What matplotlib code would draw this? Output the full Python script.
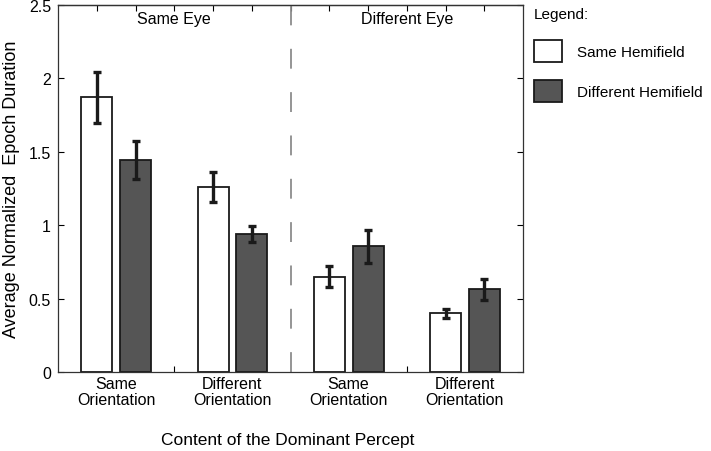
import numpy as np
import matplotlib
matplotlib.use('Agg')
import matplotlib.pyplot as plt
from matplotlib.patches import Patch

plt.rcParams['font.family'] = ['Liberation Sans', 'DejaVu Sans']

groups = ['Same\nOrientation', 'Different\nOrientation', 'Same\nOrientation', 'Different\nOrientation']
same_hemi = [1.87, 1.26, 0.65, 0.40]
same_hemi_err = [0.175, 0.10, 0.07, 0.032]
diff_hemi = [1.445, 0.94, 0.855, 0.562]
diff_hemi_err = [0.13, 0.055, 0.11, 0.07]
eye_labels = ['Same Eye', 'Different Eye']

fig = plt.figure(figsize=(7.11, 4.52), dpi=100)
ax = fig.add_axes([0.0816, 0.1748, 0.654, 0.812])

pos_white = np.array([1, 4, 7, 10])
pos_dark = pos_white + 1
err_kw = dict(ecolor='#1a1a1a', elinewidth=2.4, capsize=3, capthick=2.4)
ax.bar(pos_white, same_hemi, width=0.8, color='white', edgecolor='#1a1a1a', linewidth=1.3,
       yerr=same_hemi_err, error_kw=err_kw, label='Same Hemifield')
ax.bar(pos_dark, diff_hemi, width=0.8, color='#555555', edgecolor='#1a1a1a', linewidth=1.3,
       yerr=diff_hemi_err, error_kw=err_kw, label='Different Hemifield')

ax.axvline(6, color='#8c8c8c', linewidth=1.3, dashes=(11, 13))

ax.set_xlim(0, 12)
ax.set_ylim(0, 2.5)
ax.set_yticks([0, 0.5, 1, 1.5, 2, 2.5])
ax.set_yticklabels(['0', '0.5', '1', '1.5', '2', '2.5'])
ax.set_xticks((pos_white + pos_dark) / 2)
ax.set_xticklabels(groups, fontsize=11.5, linespacing=1.05)
ax.tick_params(axis='x', length=0, pad=3)
ax.set_xticks([3, 9], minor=True)
ax.tick_params(axis='x', which='minor', direction='in', length=4, width=0.8)
ax.tick_params(axis='y', direction='in', right=True, length=4, width=0.8, labelsize=11.5, pad=5)

# top ticks
sec = ax.secondary_xaxis('top')
sec.set_xticks(np.arange(1, 12))
sec.set_xticklabels([])
sec.tick_params(direction='in', length=4, width=0.8)

for sp in list(ax.spines.values()) + list(sec.spines.values()):
    sp.set_linewidth(0.9)
    sp.set_color('#333333')

ax.text(3, 2.41, eye_labels[0], ha='center', va='center', fontsize=11.5)
ax.text(9, 2.41, eye_labels[1], ha='center', va='center', fontsize=11.5)

ax.set_ylabel('Average Normalized  Epoch Duration', fontsize=13, labelpad=6)
fig.text(0.405, 0.025, 'Content of the Dominant Percept', ha='center', va='center', fontsize=12.5)

handles = [Patch(facecolor='white', edgecolor='#1a1a1a', linewidth=1.3),
           Patch(facecolor='#555555', edgecolor='#1a1a1a', linewidth=1.3)]
leg = fig.legend(handles, ['Same Hemifield', 'Different Hemifield'], loc='upper left',
                 bbox_to_anchor=(0.742, 0.995), frameon=False, title='Legend:', alignment='left',
                 fontsize=11, title_fontsize=11, handlelength=1.85, handleheight=1.85,
                 labelspacing=1.2, handletextpad=1.0, borderaxespad=0)

fig.savefig('out.png', dpi=100)
